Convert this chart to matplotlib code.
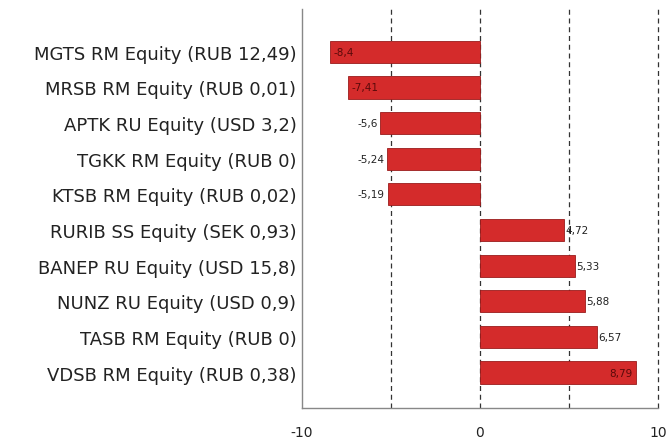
import matplotlib
matplotlib.use("Agg")
import matplotlib.pyplot as plt

labels = ["MGTS RM Equity (RUB 12,49)", "MRSB RM Equity (RUB 0,01)", "APTK RU Equity (USD 3,2)",
          "TGKK RM Equity (RUB 0)", "KTSB RM Equity (RUB 0,02)", "RURIB SS Equity (SEK 0,93)",
          "BANEP RU Equity (USD 15,8)", "NUNZ RU Equity (USD 0,9)", "TASB RM Equity (RUB 0)",
          "VDSB RM Equity (RUB 0,38)"]
values = [-8.4, -7.41, -5.6, -5.24, -5.19, 4.72, 5.33, 5.88, 6.57, 8.79]
value_text = ["-8,4", "-7,41", "-5,6", "-5,24", "-5,19", "4,72", "5,33", "5,88", "6,57", "8,79"]
inside = [True, True, False, False, False, False, False, False, False, True]
xticks = [-10, 0, 10]

fig = plt.figure(figsize=(6.68, 4.39), dpi=100)
ax = fig.add_axes([0.452, 0.068, 0.533, 0.909])
y = list(range(len(values)))
ax.barh(y, values, height=0.62, color="#d42b2b", edgecolor="#9a1c1c", linewidth=0.6, zorder=3)
for gx in [-5, 0, 5, 10]:
    ax.axvline(gx, color="#333333", linestyle=(0, (4, 3)), linewidth=0.9, zorder=1, clip_on=False)
for yi, v, t, ins in zip(y, values, value_text, inside):
    if ins:
        if v < 0:
            ax.text(v + 0.2, yi, t, ha="left", va="center", fontsize=7.5, color="#5a0a0a", zorder=4)
        else:
            ax.text(v - 0.2, yi, t, ha="right", va="center", fontsize=7.5, color="#5a0a0a", zorder=4)
    else:
        if v < 0:
            ax.text(v - 0.15, yi, t, ha="right", va="center", fontsize=7.5, color="#222222", zorder=4)
        else:
            ax.text(v + 0.1, yi, t, ha="left", va="center", fontsize=7.5, color="#222222", zorder=4)
ax.set_xlim(-10, 10)
ax.set_ylim(10.0, -1.2)
ax.set_yticks(y)
ax.set_yticklabels(labels, fontsize=13, color="#222222")
ax.set_xticks(xticks)
ax.set_xticklabels([str(v) for v in xticks], fontsize=10, color="#222222")
ax.tick_params(axis="both", length=0)
ax.tick_params(axis="y", pad=4)
ax.tick_params(axis="x", pad=12)
for s in ["top", "right"]:
    ax.spines[s].set_visible(False)
for s in ["left", "bottom"]:
    ax.spines[s].set_color("#888888")
    ax.spines[s].set_linewidth(1.0)
fig.savefig("out.png", dpi=100)
